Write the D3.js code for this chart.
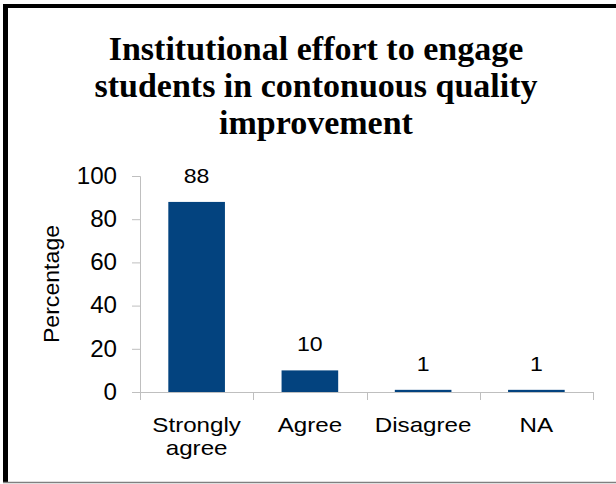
<!DOCTYPE html>
<html>
<head>
<meta charset="utf-8">
<script src="https://cdn.jsdelivr.net/npm/d3@7"></script>
<style>
  html, body { margin: 0; padding: 0; background: #fff; }
  svg { display: block; }
</style>
</head>
<body>
<svg id="chart" width="616" height="484"></svg>
<script>
// ---- data ----
const categories = ["Strongly agree", "Agree", "Disagree", "NA"];
const values = [88, 10, 1, 1];
const yTicks = [0, 20, 40, 60, 80, 100];
const titleLines = ["Institutional effort to engage", "students in contonuous quality", "improvement"];
const yLabel = "Percentage";

// ---- layout ----
const W = 616, H = 484;
const plot = { left: 140, right: 593, top: 176, bottom: 392 };
const svg = d3.select("#chart");

svg.append("rect").attr("width", W).attr("height", H).attr("fill", "#fff");

// frame
svg.append("line").attr("x1", 3).attr("x2", 616).attr("y1", 6).attr("y2", 6)
  .attr("stroke", "#000").attr("stroke-width", 4);
svg.append("line").attr("x1", 5.5).attr("x2", 5.5).attr("y1", 4).attr("y2", 483)
  .attr("stroke", "#000").attr("stroke-width", 5);
svg.append("line").attr("x1", 3).attr("x2", 616).attr("y1", 482.5).attr("y2", 482.5)
  .attr("stroke", "#808080").attr("stroke-width", 1.5);

function stretch(sel, f) {
  sel.each(function() {
    const len = this.getComputedTextLength();
    d3.select(this).attr("textLength", len * f).attr("lengthAdjust", "spacingAndGlyphs");
  });
}

// title
const title = svg.append("text")
  .attr("x", 316).attr("text-anchor", "middle")
  .attr("font-family", "'Liberation Serif', 'Times New Roman', serif")
  .attr("font-weight", "bold").attr("font-size", 34).attr("fill", "#000");
titleLines.forEach((t, i) => {
  title.append("tspan").attr("x", 316).attr("y", 59.5 + i * 37).text(t);
});

// scales
const x = d3.scaleBand().domain(categories).range([plot.left, plot.right])
  .paddingInner(0.5).paddingOuter(0.25);
const y = d3.scaleLinear().domain([0, 100]).range([plot.bottom, plot.top]);

const axisColor = "#bfbfbf";
const font = "'Liberation Sans', Arial, sans-serif";
const fs = 23;

// y axis
const yAxis = svg.append("g").attr("transform", `translate(${plot.left},0)`)
  .call(d3.axisLeft(y).tickValues(yTicks).tickSize(8).tickPadding(15));
yAxis.select(".domain").attr("stroke", axisColor);
yAxis.selectAll(".tick line").attr("stroke", axisColor);
yAxis.selectAll(".tick text").attr("font-family", font).attr("font-size", fs).attr("fill", "#000");
stretch(yAxis.selectAll(".tick text"), 1.05);

// x axis line + boundary ticks
svg.append("line").attr("x1", plot.left).attr("x2", plot.right)
  .attr("y1", plot.bottom + 0.5).attr("y2", plot.bottom + 0.5).attr("stroke", axisColor);
const step = x.step();
d3.range(categories.length + 1).forEach(i => {
  const xx = Math.round(plot.left + i * step) + 0.5;
  svg.append("line").attr("x1", xx).attr("x2", xx)
    .attr("y1", plot.bottom).attr("y2", plot.bottom + 8).attr("stroke", axisColor);
});

// category labels (wrapped as tspans in one text)
categories.forEach(c => {
  const words = c === "Strongly agree" ? ["Strongly", "agree"] : [c];
  const cx = x(c) + x.bandwidth() / 2;
  const t = svg.append("text").attr("text-anchor", "middle")
    .attr("font-family", font).attr("font-size", 21).attr("fill", "#000");
  words.forEach((w, i) => {
    const ts = t.append("tspan").attr("x", cx).attr("y", 431.5 + i * 23.5).text(w);
    stretch(ts, 1.15);
  });
});

// bars
svg.selectAll("rect.bar").data(values).enter().append("rect")
  .attr("class", "bar")
  .attr("x", (d, i) => x(categories[i]))
  .attr("width", x.bandwidth())
  .attr("y", d => y(d))
  .attr("height", d => plot.bottom - y(d))
  .attr("fill", "#03437f");

// value labels
const vl = svg.selectAll("text.val").data(values).enter().append("text")
  .attr("class", "val")
  .attr("x", (d, i) => x(categories[i]) + x.bandwidth() / 2)
  .attr("y", d => y(d) - 19)
  .attr("text-anchor", "middle")
  .attr("font-family", font).attr("font-size", 21).attr("fill", "#000")
  .text(d => d);
stretch(vl, 1.1);

// y label
const yl = svg.append("text")
  .attr("transform", "translate(58.5,284) rotate(-90)")
  .attr("text-anchor", "middle")
  .attr("font-family", font).attr("font-size", 22).attr("fill", "#000")
  .text(yLabel);
stretch(yl, 1.05);
</script>
</body>
</html>
